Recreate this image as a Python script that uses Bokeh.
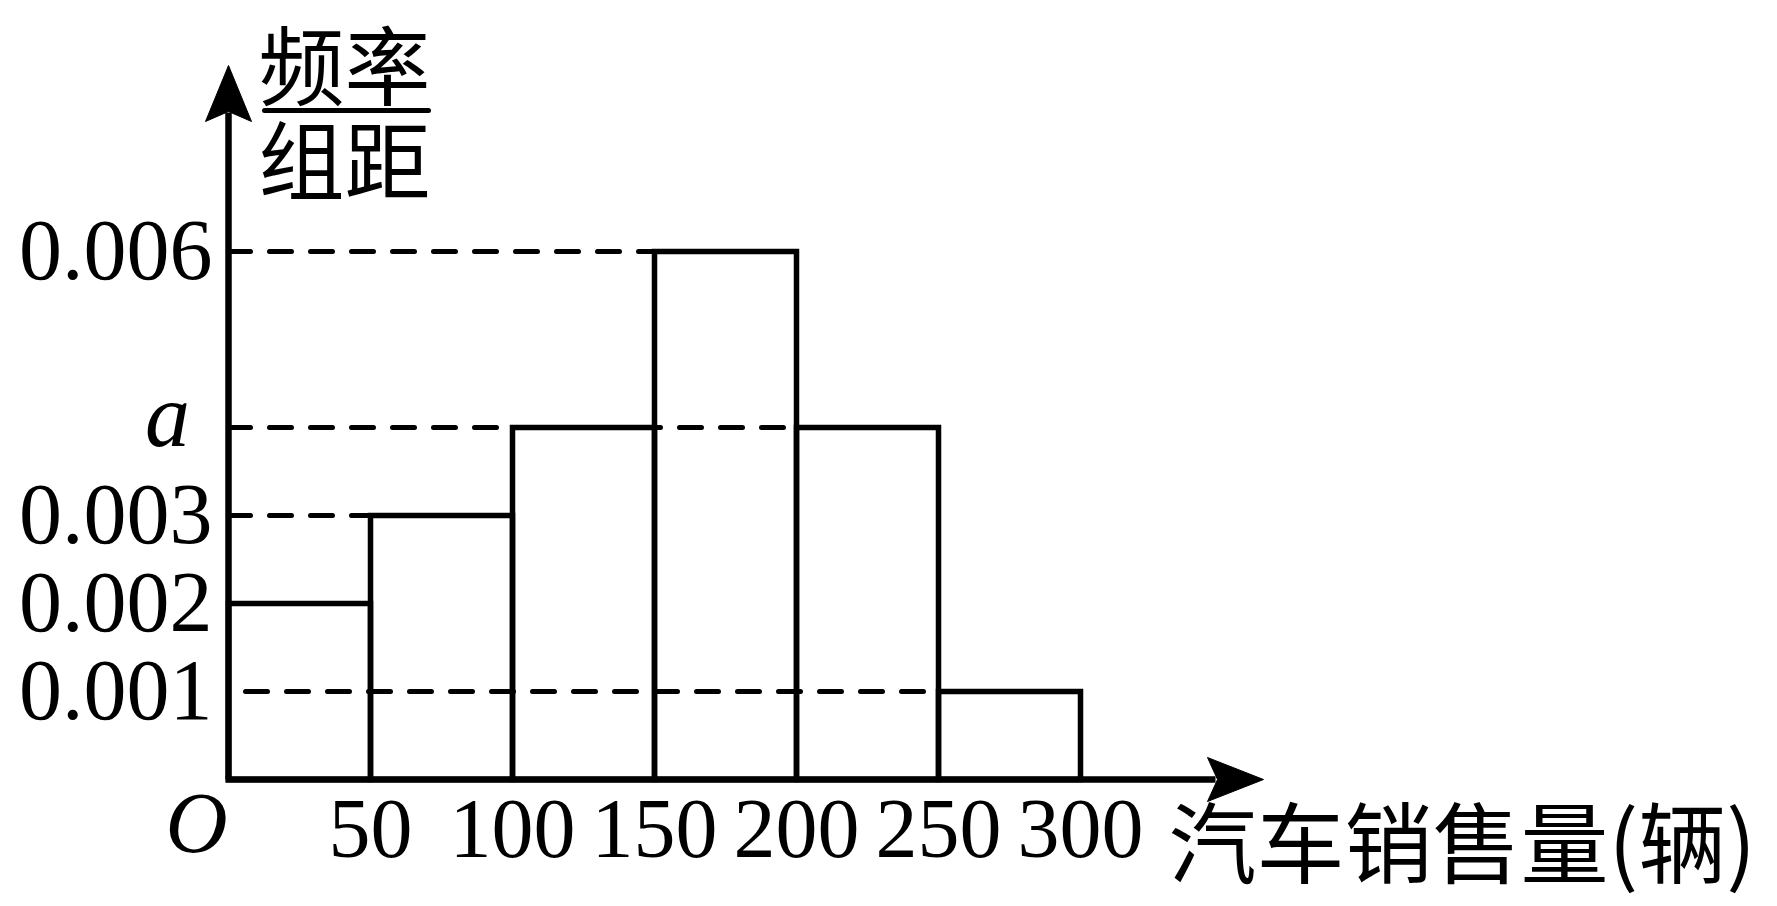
from bokeh.plotting import figure
from bokeh.models import Range1d
from bokeh.core.properties import value
from bokeh.embed import file_html
from bokeh.resources import INLINE

# ---- data ----
bin_edges = [0, 50, 100, 150, 200, 250, 300]
density = [0.002, 0.003, 0.004, 0.006, 0.004, 0.001]
y_ticks = [0.001, 0.002, 0.003, 0.006]
y_tick_labels = ["0.001", "0.002", "0.003", "0.006"]
a_value = 0.004
a_label = "a"
x_ticks = [50, 100, 150, 200, 250, 300]
x_tick_labels = ["50", "100", "150", "200", "250", "300"]
origin_label = "O"
x_title = "汽车销售量(辆)"
y_title_top = "频率"
y_title_bottom = "组距"

# ---- pixel layout ----
W, H = 1777, 906
PX0, PXU = 228, 142 / 50.0      # x=0 pixel, px per unit
PY0, PYU = 779, 88 / 0.001      # y=0 pixel (from top), px per unit


def dx(px):
    return (px - PX0) / PXU


def dy(py):
    return (PY0 - py) / PYU


p = figure(width=W, height=H, x_range=Range1d(dx(0), dx(W)), y_range=Range1d(dy(H), dy(0)),
           x_axis_type=None, y_axis_type=None, toolbar_location=None,
           output_backend="svg", min_border=0)
p.grid.visible = False
p.outline_line_color = None
p.background_fill_color = "white"
p.border_fill_color = "white"

BLACK = "#000000"
SERIF = value("Liberation Serif")
CJK = value("Noto Sans CJK SC")

# ---- dashed guide lines ----
levels = sorted(set(density))
for lv in levels:
    lefts = [bin_edges[i] for i, d in enumerate(density) if d == lv]
    end = max(lefts)
    if end <= 0:
        continue
    p.line([0, end], [lv, lv], line_color=BLACK, line_width=5,
           line_dash="22 19", line_cap="round",
           line_dash_offset=24 if lv == levels[0] else 0)

# ---- histogram bars ----
p.quad(left=bin_edges[:-1], right=bin_edges[1:], bottom=[0] * len(density), top=density,
       fill_color=None, line_color=BLACK, line_width=5.5, line_join="miter")

# ---- axes with arrows ----
p.line([0, 0], [0, dy(112)], line_color=BLACK, line_width=6.5)
p.line([dx(225), dx(1215)], [0, 0], line_color=BLACK, line_width=6.5)
# y arrowhead
p.patch([0, dx(PX0 + 23), 0, dx(PX0 - 23)], [dy(65), dy(121), dy(111), dy(121)],
        fill_color=BLACK, line_color=BLACK, line_width=1)
# x arrowhead
p.patch([dx(1263), dx(1207), dx(1217), dx(1207)], [0, dy(PY0 - 22), 0, dy(PY0 + 22)],
        fill_color=BLACK, line_color=BLACK, line_width=1)

# ---- tick labels ----
p.text(x=[0] * len(y_ticks), y=y_ticks, text=y_tick_labels, text_font=SERIF,
       text_font_size="86px", text_align="right", text_baseline="alphabetic",
       x_offset=-16, y_offset=-1, text_color=BLACK)
p.text(x=[0], y=[a_value], text=[a_label], text_font=SERIF, text_font_style="italic",
       text_font_size="90px", text_align="center", text_baseline="alphabetic",
       x_offset=-61, y_offset=-12, text_color=BLACK)
p.text(x=x_ticks, y=[0] * len(x_ticks), text=x_tick_labels, text_font=SERIF,
       text_font_size="84px", text_align="center", text_baseline="alphabetic",
       y_offset=49, text_color=BLACK)
p.text(x=[0], y=[0], text=[origin_label], text_font=SERIF, text_font_style="italic",
       text_font_size="86px", text_align="center", text_baseline="alphabetic",
       x_offset=-32, y_offset=43, text_color=BLACK)

# ---- axis titles ----
p.text(x=[dx(1168)], y=[dy(837)], text=[x_title], text_font=CJK, text_font_size="88px",
       text_align="left", text_baseline="alphabetic", text_color=BLACK)
p.text(x=[dx(258)], y=[dy(61)], text=[y_title_top], text_font=CJK, text_font_size="86px",
       text_align="left", text_baseline="alphabetic", text_color=BLACK)
p.text(x=[dx(258)], y=[dy(156)], text=[y_title_bottom], text_font=CJK, text_font_size="86px",
       text_align="left", text_baseline="alphabetic", text_color=BLACK)
p.line([dx(264), dx(428)], [dy(110), dy(110)], line_color=BLACK, line_width=5, line_cap="round")

open("out.html", "w").write(file_html(p, INLINE))
